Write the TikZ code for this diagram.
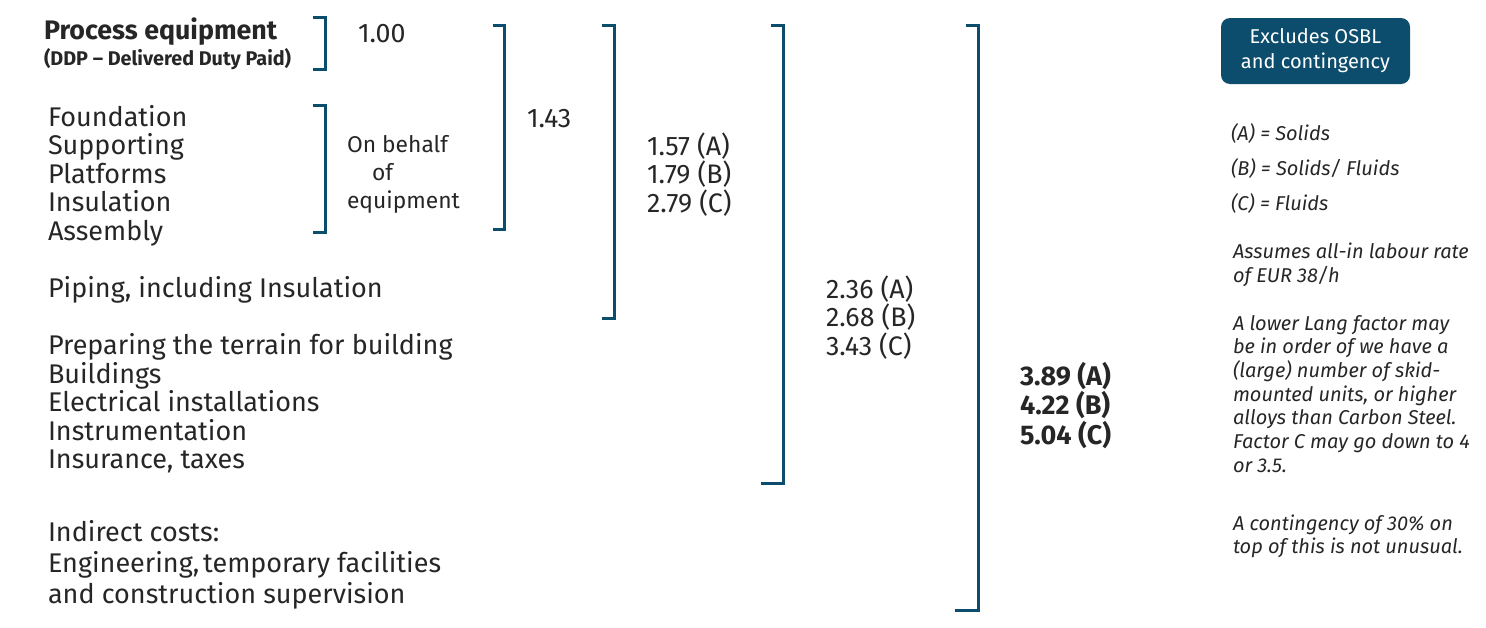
\documentclass[tikz,border=0pt]{standalone}
\usepackage{fontspec}
\setmainfont{Fira Sans}
\definecolor{brk}{RGB}{12,76,108}
\definecolor{txt}{RGB}{38,38,38}
\begin{document}
\begin{tikzpicture}[x=1pt,y=-1pt,
  every node/.style={inner sep=0pt,outer sep=0pt,text=txt},
  lst/.style={anchor=base west,font=\fontsize{27}{29}\selectfont},
  num/.style={anchor=base west,font=\fontsize{26.8}{28}\selectfont},
  bnum/.style={anchor=base west,font=\fontsize{27}{28}\selectfont\bfseries},
  note/.style={anchor=base west,font=\fontsize{20}{22}\selectfont\itshape},
  obh/.style={anchor=base west,font=\fontsize{22.8}{24}\selectfont},
  brack/.style={draw=brk,line width=3pt,line cap=butt,line join=miter}]
\useasboundingbox (0,0) rectangle (1486,627);
% brackets
\draw[brack] (313,17) -- (325,17) -- (325,69) -- (313,69);
\draw[brack] (313,105) -- (325,105) -- (325,232) -- (313,232);
\draw[brack] (493,25) -- (504,25) -- (504,229) -- (493,229);
\draw[brack] (602,25) -- (614,25) -- (614,318) -- (602,318);
\draw[brack] (771,25) -- (783,25) -- (783,483) -- (761,483);
\draw[brack] (966,25) -- (978,25) -- (978,610) -- (955,610);
% left column
\node[anchor=base west,font=\fontsize{26.8}{28}\selectfont\bfseries] (pe) at (44,39) {Process equipment};
\node[anchor=base west,font=\fontsize{19.8}{22}\selectfont\bfseries] (ddp) at (44,65) {(DDP – Delivered Duty Paid)};
\node[lst] (f1) at (48,126) {Foundation};
\node[lst] (f2) at (48,154.5) {Supporting};
\node[lst] (f3) at (48,183) {Platforms};
\node[lst] (f4) at (48,211.5) {Insulation};
\node[lst] (f5) at (48,240) {Assembly};
\node[lst] (pip) at (48,297) {Piping, including Insulation};
\node[lst] (g1) at (48,354) {Preparing the terrain for building};
\node[lst] (g2) at (48,383) {Buildings};
\node[lst] (g3) at (48,411.5) {Electrical installations};
\node[lst] (g4) at (48,440) {Instrumentation};
\node[lst] (g5) at (48,468.5) {Insurance, taxes};
\node[lst] (i1) at (48,541) {Indirect costs:};
\node[lst] (i2) at (48,572) {Engineering,\hspace{-0.12em} temporary facilities};
\node[lst] (i3) at (48,603) {and construction supervision};
% on behalf
\node[obh] (ob1) at (347,152) {On behalf};
\node[obh] (ob2) at (372,180) {of};
\node[obh] (ob3) at (347,208) {equipment};
% numbers
\node[num] (n100) at (358,42) {1.00};
\node[num] (n143) at (527,127) {1.43};
\node[num] (a1) at (647,155) {1.57 (A)};
\node[num] (a2) at (647,183.5) {1.79 (B)};
\node[num] (a3) at (647,212) {2.79 (C)};
\node[num] (b1) at (826,298) {2.36 (A)};
\node[num] (b2) at (826,326.5) {2.68 (B)};
\node[num] (b3) at (826,355) {3.43 (C)};
\node[bnum] (c1) at (1020,385) {3.89 (A)};
\node[bnum] (c2) at (1020,414.5) {4.22 (B)};
\node[bnum] (c3) at (1020,444) {5.04 (C)};
% box
\node[fill=brk,rounded corners=9pt,minimum width=189pt,minimum height=66pt,
  text=white,align=center,font=\fontsize{20}{25}\selectfont] (box) at (1315.5,51)
  {Excludes OSBL\\and contingency};
% notes
\node[note] (na) at (1231,140) {(A) = Solids};
\node[note] (nb) at (1231,175.5) {(B) = Solids/ Fluids};
\node[note] (nc) at (1231,210) {(C) = Fluids};
\node[note] (l1) at (1233,258) {Assumes all-in labour rate};
\node[note] (l2) at (1233,282) {of EUR 38/h};
\node[note] (p1) at (1233,330) {A lower Lang factor may};
\node[note] (p2) at (1233,353.7) {be in order of we have a};
\node[note] (p3) at (1233,377.4) {(large) number of skid-};
\node[note] (p4) at (1233,401.1) {mounted units, or higher};
\node[note] (p5) at (1233,424.8) {alloys than Carbon Steel.};
\node[note] (p6) at (1233,448.5) {Factor C may go down to 4};
\node[note] (p7) at (1233,472.2) {or 3.5.};
\node[note] (q1) at (1233,530) {A contingency of 30\% on};
\node[note] (q2) at (1233,553.7) {top of this is not unusual.};
\end{tikzpicture}
\end{document}
